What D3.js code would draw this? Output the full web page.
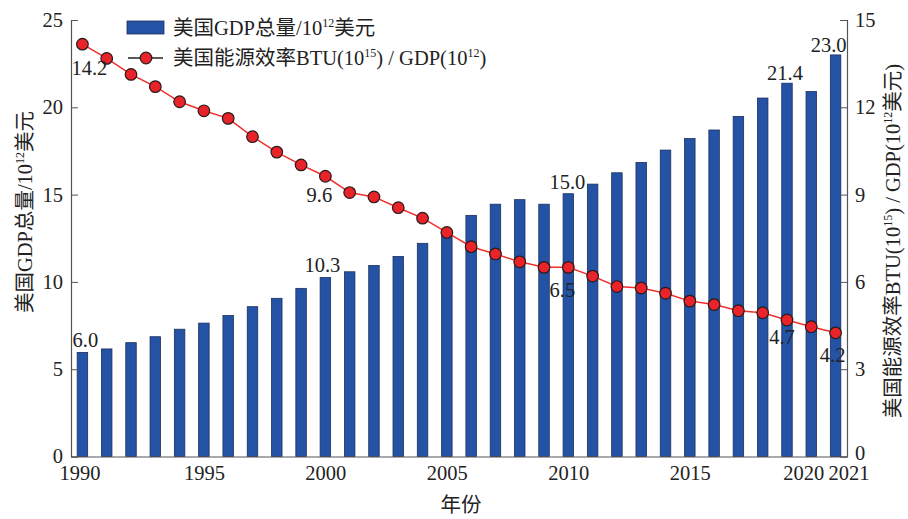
<!DOCTYPE html>
<html><head><meta charset="utf-8">
<script src="https://cdn.jsdelivr.net/npm/d3@7"></script>
<style>body{margin:0;background:#fff}</style>
</head><body>
<svg id="c" width="908" height="519"></svg>
<script>
const years = d3.range(1990, 2022);
const gdp = [5.96,6.16,6.52,6.86,7.29,7.64,8.07,8.58,9.06,9.63,10.25,10.58,10.94,11.46,12.21,12.9,13.81,14.45,14.71,14.45,15.05,15.6,16.25,16.84,17.55,18.21,18.7,19.48,20.53,21.38,20.9,23.0];
const eff = [14.17,13.68,13.13,12.71,12.19,11.88,11.62,10.99,10.46,10.02,9.63,9.07,8.92,8.55,8.19,7.70,7.21,6.96,6.69,6.50,6.50,6.20,5.84,5.79,5.61,5.34,5.22,5.01,4.94,4.69,4.46,4.25];
const xTicks = [1990,1995,2000,2005,2010,2015,2020,2021];
const leftTicks = [0,5,10,15,20,25];
const rightTicks = [0,3,6,9,12,15];
const barLabels = [[1990,"6.0"],[2000,"10.3"],[2010,"15.0"],[2019,"21.4"],[2021,"23.0"]];
const lineLabels = [[1990,"14.2"],[2000,"9.6"],[2010,"6.5"],[2019,"4.7"],[2021,"4.2"]];

const svg = d3.select("#c");
const L = 71, R = 847, T = 20, B = 456.5;
const serif = "'Liberation Serif','Times New Roman','Noto Sans CJK SC',serif";
const FS = 20.5, SUP = 12;
const x = d3.scaleLinear().domain([1989.53, 2021.47]).range([L, R]);
const yL = d3.scaleLinear().domain([0, 25]).range([B, T]);
const yR = d3.scaleLinear().domain([0, 15]).range([B, T]);
const bw = 10.5;
const textCol = "#222";

// bars
svg.append("g").selectAll("rect").data(years).join("rect")
  .attr("x", d => x(d) - bw/2).attr("width", bw)
  .attr("y", (d,i) => yL(gdp[i])).attr("height", (d,i) => B - yL(gdp[i]))
  .attr("fill", "#2453a6").attr("stroke", "#1c2f5e").attr("stroke-width", 0.8);

// axes
const axCol = "#555";
const gl = svg.append("g").attr("transform", `translate(${L},0)`)
  .call(d3.axisLeft(yL).tickValues(leftTicks).tickSize(-7).tickPadding(10));
const gr = svg.append("g").attr("transform", `translate(${R},0)`)
  .call(d3.axisRight(yR).tickValues(rightTicks).tickSize(-7).tickPadding(10));
const gb = svg.append("g").attr("transform", `translate(0,${B})`)
  .call(d3.axisBottom(x).tickValues(xTicks).tickSize(0).tickPadding(9).tickFormat(d3.format("d")));
[gl, gr, gb].forEach(g => {
  g.select(".domain").attr("stroke", axCol).attr("stroke-width", 1.2);
  g.selectAll(".tick line").attr("stroke", axCol);
  g.selectAll(".tick text").attr("font-family", serif).attr("font-size", FS).attr("fill", textCol);
});
gl.selectAll(".tick text").attr("dx", 2).attr("y", d => d === 0 ? -1 : 0);
gr.selectAll(".tick text").attr("dx", -2).attr("y", d => d === 0 ? -4 : 0);
gb.selectAll(".tick text").attr("dx", d => d === 1990 ? -3 : d === 2020 ? -8 : d === 2021 ? 13 : 0);

// line
const line = d3.line().x((d,i) => x(years[i])).y(d => yR(d));
svg.append("path").datum(eff).attr("d", line).attr("fill", "none")
  .attr("stroke", "#f0302c").attr("stroke-width", 1.5);
svg.append("g").selectAll("circle").data(eff).join("circle")
  .attr("cx", (d,i) => x(years[i])).attr("cy", d => yR(d)).attr("r", 5.8)
  .attr("fill", "#e8242a").attr("stroke", "#2a1a1a").attr("stroke-width", 1.2);

// bar value labels
const bOff = {1990:[3,-5],2000:[-3,-5.5],2010:[-1,-5],2019:[-2,-3],2021:[-7,-3]};
svg.append("g").selectAll("text").data(barLabels).join("text")
  .attr("x", d => x(d[0]) + bOff[d[0]][0])
  .attr("y", d => yL(gdp[years.indexOf(d[0])]) + bOff[d[0]][1])
  .attr("text-anchor", "middle").attr("font-family", serif).attr("font-size", FS).attr("fill", textCol)
  .text(d => d[1]);

// line value labels
const lOff = {1990:[7,31],2000:[-6,26],2010:[-6,30],2019:[-5,24],2021:[-3,29]};
svg.append("g").selectAll("text").data(lineLabels).join("text")
  .attr("x", d => x(d[0]) + lOff[d[0]][0])
  .attr("y", d => yR(eff[years.indexOf(d[0])]) + lOff[d[0]][1])
  .attr("text-anchor", "middle").attr("font-family", serif).attr("font-size", FS).attr("fill", textCol)
  .text(d => d[1]);

// legend
const lg = svg.append("g");
lg.append("rect").attr("x", 127).attr("y", 21).attr("width", 37).attr("height", 13)
  .attr("fill", "#2453a6").attr("stroke", "#1c2f5e").attr("stroke-width", 0.8);
lg.append("line").attr("x1", 128).attr("x2", 163).attr("y1", 58).attr("y2", 58)
  .attr("stroke", "#222").attr("stroke-width", 1.3);
lg.append("circle").attr("cx", 146).attr("cy", 58).attr("r", 5.8)
  .attr("fill", "#e8242a").attr("stroke", "#2a1a1a").attr("stroke-width", 1.2);
function sup(t, parts) {
  parts.forEach(p => {
    if (p[1]) t.append("tspan").attr("font-size", SUP).attr("dy", -8).text(p[0]);
    else t.append("tspan").attr("dy", p[2] ? 8 : 0).text(p[0]);
  });
}
const t1 = lg.append("text").attr("x", 173).attr("y", 35).attr("font-family", serif).attr("font-size", FS).attr("fill", textCol);
sup(t1, [["美国GDP总量/10"],["12",1],["美元",0,1]]);
const t2 = lg.append("text").attr("x", 173).attr("y", 65).attr("font-family", serif).attr("font-size", FS).attr("fill", textCol);
sup(t2, [["美国能源效率BTU(10"],["15",1],[") / GDP(10",0,1],["12",1],[")",0,1]]);

// axis titles
const yl = svg.append("text").attr("transform", "translate(32,212) rotate(-90)")
  .attr("text-anchor", "middle").attr("font-family", serif).attr("font-size", FS).attr("fill", textCol);
sup(yl, [["美国GDP总量/10"],["12",1],["美元",0,1]]);

const yr = svg.append("text").attr("transform", "translate(900,241) rotate(-90)")
  .attr("text-anchor", "middle").attr("font-family", serif).attr("font-size", FS).attr("fill", textCol);
sup(yr, [["美国能源效率BTU(10"],["15",1],[") / GDP(10",0,1],["12",1],["美元)",0,1]]);

svg.append("text").attr("x", 461).attr("y", 512).attr("text-anchor", "middle")
  .attr("font-family", serif).attr("font-size", FS).attr("fill", textCol).text("年份");
</script>
</body></html>
